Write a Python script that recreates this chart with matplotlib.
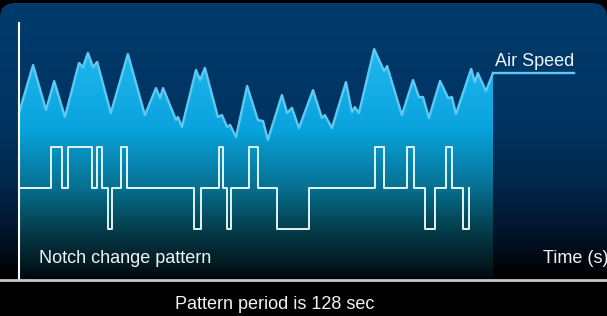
import numpy as np
import matplotlib.pyplot as plt
from matplotlib.colors import LinearSegmentedColormap
from matplotlib.patches import FancyBboxPatch

plt.rcParams['font.family'] = ['Liberation Sans', 'DejaVu Sans']

# air speed trace (time in s, arbitrary speed units)
t_air = [0, 3.8, 7.3, 9.5, 12.4, 16.2, 17.3, 18.6, 20.0, 21.1, 24.8, 29.4, 34.0,
         37.0, 38.1, 38.9, 42.4, 42.9, 44.0, 47.8, 48.9, 50.2, 53.7, 54.8, 56.2,
         57.0, 58.6, 61.6, 64.5, 65.9, 67.2, 71.0, 72.4, 73.7, 75.6, 79.4, 81.8,
         82.6, 84.5, 88.3, 89.9, 90.7, 91.8, 95.9, 98.6, 99.4, 103.4, 106.4, 108.0,
         109.1, 110.7, 113.7, 115.9, 116.9, 118.0, 122.1, 123.1, 123.9, 126.1, 128.0]
air = [65.1, 83.7, 66.3, 77.5, 63.6, 84.5, 82.9, 88.4, 82.9, 84.9, 65.1, 88.0, 64.3,
       74.8, 70.9, 74.8, 62.4, 63.6, 59.7, 81.8, 77.9, 82.6, 63.6, 64.3, 59.7,
       60.5, 55.8, 75.6, 62.4, 62.0, 54.7, 72.1, 65.1, 67.1, 59.3, 74.0, 63.2,
       64.3, 59.3, 77.1, 65.5, 67.4, 65.1, 89.9, 81.4, 83.3, 64.3, 77.9, 71.3,
       71.3, 63.2, 77.5, 70.9, 71.3, 64.7, 82.2, 77.1, 80.6, 73.6, 80.6]
period = 128
t_label_end = 150

# notch change pattern: switch times and notch level (-1, 0, +1)
t_notch = [0, 8.6, 11.6, 13.2, 19.7, 21.1, 22.4, 24.0, 25.1, 27.5, 29.2, 47.3, 49.1,
           54.0, 55.1, 56.2, 57.2, 62.1, 64.5, 69.7, 78.3, 96.1, 98.6, 104.8, 106.7,
           109.6, 112.3, 115.3, 116.9, 119.9, 121.5]
notch = [0, 1, 0, 1, 0, 1, 0, -1, 0, 1, 0, -1, 0, 1, 0, -1, 0, 1, 0, -1, 0, 1, 0,
         1, 0, -1, 0, 1, 0, -1, 0]
notch_base, notch_step = 36.0, 15.9

ymax = 107.75
px = period / 474.0

fig = plt.figure(figsize=(6.07, 3.16), dpi=100, facecolor='black')
ax = fig.add_axes([0, 35 / 316, 1, 278 / 316])
ax.set_xlim(-19 * px, 588 * px)
ax.set_ylim(0, ymax)
ax.axis('off')

# rounded navy panel fading to black
panel = FancyBboxPatch((0, 0.35), 6.07, 2.78, boxstyle='round,pad=0,rounding_size=0.15',
                       transform=fig.dpi_scale_trans, facecolor='none', edgecolor='none')
ax.add_patch(panel)
panel_cmap = LinearSegmentedColormap.from_list('panel', [
    (0, '#000000'), (0.06, '#00060c'), (0.18, '#00152b'), (0.36, '#00284e'),
    (0.58, '#003462'), (1, '#003b6d')])
grad = np.linspace(0, 1, 256).reshape(-1, 1)
im = ax.imshow(grad, extent=[ax.get_xlim()[0], ax.get_xlim()[1], 0, ymax], origin='lower',
               aspect='auto', cmap=panel_cmap, zorder=0)
im.set_clip_path(panel)

# cyan gradient under the air speed trace
fill_cmap = LinearSegmentedColormap.from_list('fill', [
    (0, '#000406'), (0.04, '#02141a'), (0.18, '#043c4a'), (0.335, '#067090'),
    (0.54, '#08a2dc'), (0.83, '#22b8f0'), (1, '#2abcf2')])
poly = ax.fill_between(t_air, air, 0, facecolor='none', edgecolor='none')
im2 = ax.imshow(grad, extent=[0, period, 0, ymax], origin='lower', aspect='auto',
                cmap=fill_cmap, zorder=1)
im2.set_clip_path(poly.get_paths()[0], ax.transData)

ax.plot(t_air, air, color='#5ccaf2', lw=1.7, solid_joinstyle='round', zorder=3)
ax.plot([t_air[-1], t_label_end], [air[-1], air[-1]], color='#5ccaf2', lw=1.7, zorder=3)

notch_y = [notch_base + notch_step * n for n in notch]
ax.step(t_notch, notch_y, where='post', color='#e2f4f4', lw=1.4, zorder=3)

# axes lines
ax.axvline(0, ymin=0, ymax=100 / ymax, color='white', lw=1.5, zorder=4)
ax.axhline(0.3, color='#c8c8c8', lw=2, clip_on=False, zorder=4)

ax.text(128.5, 83.3, 'Air Speed', color='#eef4f8', fontsize=13, va='baseline', zorder=5)
ax.text(141.5, 7.0, 'Time (s)', color='#eef4f8', fontsize=13, va='baseline', zorder=5)
ax.text(5.4, 7.0, 'Notch change pattern', color='#eef4f8', fontsize=13, va='baseline', zorder=5)
fig.text(274.5 / 607, 7 / 316, 'Pattern period is 128 sec', color='#eef4f8', fontsize=13,
         ha='center', va='baseline')

fig.savefig('out.png', dpi=100, facecolor='black')
